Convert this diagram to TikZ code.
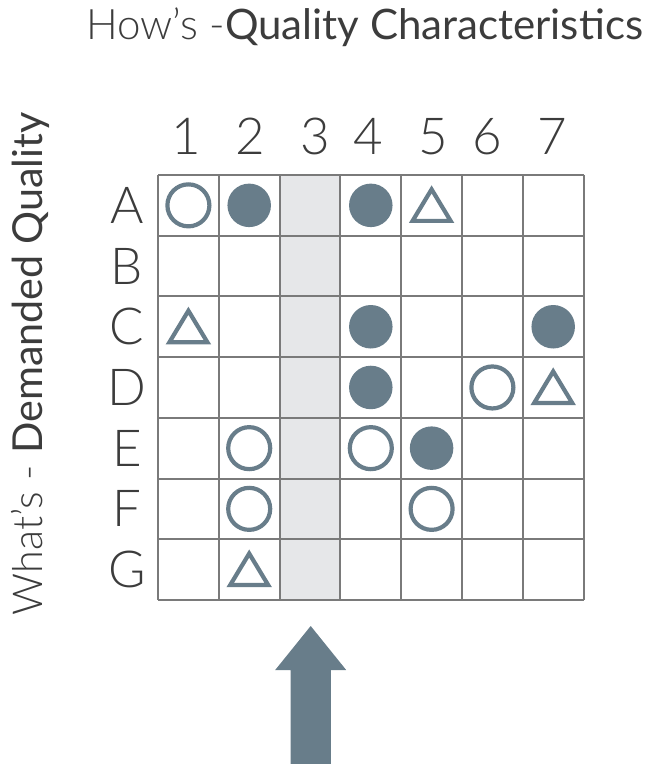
\documentclass[tikz,border=0pt]{standalone}
\usepackage{fontspec}
\newfontfamily\lightfont{Lato Light}
\newfontfamily\regfont{Lato}
\definecolor{slate}{HTML}{687D8A}
\definecolor{gridgray}{HTML}{7A7A7A}
\definecolor{colshade}{HTML}{E6E7E9}
\definecolor{txt}{HTML}{3C3C3C}
\tikzset{
  gridline/.style={draw=gridgray, line width=2pt},
  opencirc/.style={draw=slate, line width=4.2pt, circle, minimum size=42pt, inner sep=0pt},
  fullcirc/.style={fill=slate, circle, minimum size=43.5pt, inner sep=0pt},
  tri/.style={draw=slate, line width=4.2pt, line join=miter},
  lbl/.style={text=txt, font=\lightfont\fontsize{51}{51}\selectfont, inner sep=0pt},
}
\begin{document}
\begin{tikzpicture}[x=1pt, y=-1pt]
\useasboundingbox (0,0) rectangle (646,764);
\def\gx{158}\def\gy{175}\def\cw{60.8}\def\rh{60.7}
% shaded column 3
\fill[colshade] (\gx+2*\cw,\gy) rectangle (\gx+3*\cw,\gy+7*\rh);
% grid
\foreach \i in {0,...,7} {
  \draw[gridline] (\gx+\i*\cw,\gy) -- (\gx+\i*\cw,\gy+7*\rh);
  \draw[gridline] (\gx,\gy+\i*\rh) -- (\gx+7*\cw,\gy+\i*\rh);
}
% title
\node[anchor=base west, inner sep=0pt, text=txt, font=\fontsize{42}{42}\selectfont] (title) at (86,39) {{\lightfont How’s -}{\regfont Quality Characteristics}};
% vertical label
\node[rotate=90, anchor=base, inner sep=0pt, text=txt, font=\fontsize{41.3}{41.3}\selectfont] (whats) at (42,364) {{\lightfont What’s - }{\regfont Demanded Quality}};
% column numbers
\node[lbl] (c1) at (186,136.5) {1};
\node[lbl] (c2) at (250,136.5) {2};
\node[lbl] (c3) at (315,136.5) {3};
\node[lbl] (c4) at (368,136.5) {4};
\node[lbl] (c5) at (433,136.5) {5};
\node[lbl] (c6) at (487,136.5) {6};
\node[lbl] (c7) at (552,136.5) {7};
% row letters
\foreach \l [count=\r from 0] in {A,B,C,D,E,F,G} {
  \node[lbl] (r\l) at (127,\gy+\r*\rh+0.5*\rh) {\l};
}
% symbols
\newcommand{\cx}[1]{\gx+#1*\cw-0.5*\cw}
\newcommand{\cy}[1]{\gy+#1*\rh-0.5*\rh}
\foreach \c/\r in {1/1, 6/4, 2/5, 4/5, 2/6, 5/6} {
  \node[opencirc] at ({\cx{\c}},{\cy{\r}}) {};
}
\foreach \c/\r in {2/1, 4/1, 4/3, 7/3, 4/4, 5/5} {
  \node[fullcirc] at ({\cx{\c}},{\cy{\r}}) {};
}
\foreach \c/\r in {5/1, 1/3, 7/4, 2/7} {
  \draw[tri] ({\cx{\c}},{\cy{\r}-16}) -- ({\cx{\c}+19},{\cy{\r}+15.5}) -- ({\cx{\c}-19},{\cy{\r}+15.5}) -- cycle;
}
% arrow
\fill[slate] (310.7,626) -- (346.2,670) -- (330.9,670) -- (330.9,764) -- (290.5,764) -- (290.5,670) -- (275.2,670) -- cycle;
\end{tikzpicture}
\end{document}
